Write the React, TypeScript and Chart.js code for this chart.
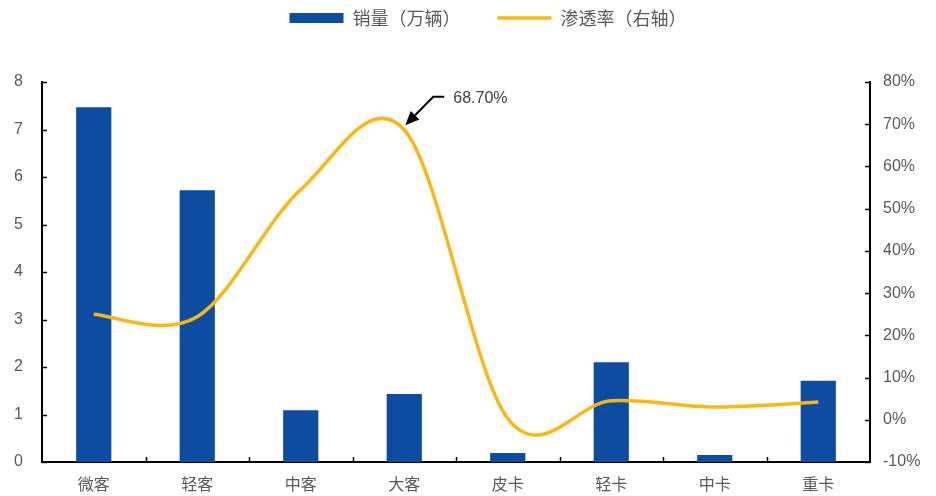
import React, { useEffect, useRef } from "react";
import { Chart, registerables } from "chart.js";

Chart.register(...registerables);

const categories = ["微客", "轻客", "中客", "大客", "皮卡", "轻卡", "中卡", "重卡"];
const salesValues = [7.47, 5.72, 1.09, 1.43, 0.19, 2.1, 0.15, 1.71];
const penetrationValues = [25, 24.4, 54.5, 68.7, 0.3, 4.5, 3, 4.2];
const leftTicks = [0, 1, 2, 3, 4, 5, 6, 7, 8];
const rightTicks = [-10, 0, 10, 20, 30, 40, 50, 60, 70, 80];
const salesLabel = "销量（万辆）";
const penetrationLabel = "渗透率（右轴）";
const annotationIndex = 3;
const annotationText = "68.70%";

const BAR_COLOR = "#0c4da2";
const LINE_COLOR = "#fbb714";
const TEXT_COLOR = "#595959";
const NUM_FONT = "'Liberation Sans', Arial, sans-serif";
const CJK_FONT = "'Noto Sans CJK SC', sans-serif";

// Excel-like smoothing (Catmull-Rom style control arms) applied to the library's points
const smoothPlugin = {
  id: "excelSmooth",
  beforeDatasetDraw(chart: any, args: any) {
    if (args.index !== 1) return;
    const meta = args.meta;
    const line = meta.dataset;
    if (line && line.updateControlPoints) line.updateControlPoints(chart.chartArea, "x");
    const pts = meta.data;
    const f = 1 / 6;
    for (let i = 0; i < pts.length; i++) {
      const p = pts[i];
      const p0 = pts[i - 1] || p;
      const p2 = pts[i + 1] || p;
      const dx = (p2.x - p0.x) * f;
      const dy = (p2.y - p0.y) * f;
      p.cp1x = p.x - dx;
      p.cp1y = p.y - dy;
      p.cp2x = p.x + dx;
      p.cp2y = p.y + dy;
    }
  },
};

const axisPlugin = {
  id: "customAxes",
  afterDatasetsDraw(chart: any) {
    const ctx = chart.ctx;
    const area = chart.chartArea;
    const y = chart.scales.y;
    const y1 = chart.scales.y1;
    const x = chart.scales.x;
    ctx.save();
    ctx.strokeStyle = "#000";
    ctx.lineWidth = 1.5;
    ctx.beginPath();
    leftTicks.forEach((v) => {
      const py = Math.round(y.getPixelForValue(v)) + 0.5;
      ctx.moveTo(area.left, py);
      ctx.lineTo(area.left + 5, py);
    });
    rightTicks.forEach((v) => {
      const py = Math.round(y1.getPixelForValue(v)) + 0.5;
      ctx.moveTo(area.right, py);
      ctx.lineTo(area.right - 5, py);
    });
    for (let i = 0; i < categories.length - 1; i++) {
      const px = (x.getPixelForValue(i) + x.getPixelForValue(i + 1)) / 2;
      ctx.moveTo(Math.round(px) + 0.5, area.bottom);
      ctx.lineTo(Math.round(px) + 0.5, area.bottom - 5);
    }
    ctx.stroke();

    // annotation
    const meta = chart.getDatasetMeta(1);
    const pt = meta.data[annotationIndex];
    if (pt) {
      const tipX = pt.x + 1;
      const tipY = pt.y - 4.5;
      const elbowX = pt.x + 29;
      const elbowY = pt.y - 33;
      const endX = pt.x + 40;
      ctx.strokeStyle = "#000";
      ctx.lineWidth = 2;
      const ang = Math.atan2(tipY - elbowY, tipX - elbowX);
      const headLen = 14;
      const baseX = tipX - headLen * Math.cos(ang);
      const baseY = tipY - headLen * Math.sin(ang);
      ctx.beginPath();
      ctx.moveTo(endX, elbowY);
      ctx.lineTo(elbowX, elbowY);
      ctx.lineTo(baseX, baseY);
      ctx.stroke();
      ctx.fillStyle = "#000";
      ctx.beginPath();
      ctx.moveTo(tipX, tipY);
      ctx.lineTo(baseX + 6 * Math.sin(ang), baseY - 6 * Math.cos(ang));
      ctx.lineTo(baseX - 6 * Math.sin(ang), baseY + 6 * Math.cos(ang));
      ctx.closePath();
      ctx.fill();
      ctx.fillStyle = "#404040";
      ctx.font = `16px ${NUM_FONT}`;
      ctx.textAlign = "left";
      ctx.textBaseline = "middle";
      ctx.fillText(annotationText, pt.x + 49, pt.y - 31.5);
    }
    ctx.restore();
  },
};

const LEGEND_PADDING = 37;
const legendSizePlugin = {
  id: "legendSize",
  afterInit(chart: any) {
    const lg = chart.legend;
    if (lg) {
      const origFit = lg.fit.bind(lg);
      lg.fit = () => {
        origFit();
        lg.height = 82;
      };
      const origDraw = lg.draw.bind(lg);
      lg.draw = () => {
        const t = lg.top;
        const l = lg.left;
        const r = lg.right;
        lg.top = t - 28;
        lg.left = l + 20;
        lg.right = r + 20;
        origDraw();
        lg.top = t;
        lg.left = l;
        lg.right = r;
      };
    }
  },
};

export default function App() {
  const canvasRef = useRef<HTMLCanvasElement | null>(null);

  useEffect(() => {
    const canvas = canvasRef.current;
    if (!canvas) return;
    const chart = new Chart(canvas, {
      type: "bar",
      data: {
        labels: categories,
        datasets: [
          {
            type: "bar",
            label: salesLabel,
            data: salesValues,
            backgroundColor: BAR_COLOR,
            borderWidth: 0,
            barPercentage: 0.34,
            categoryPercentage: 1,
            yAxisID: "y",
            order: 2,
          } as any,
          {
            type: "line",
            label: penetrationLabel,
            data: penetrationValues,
            borderColor: LINE_COLOR,
            backgroundColor: LINE_COLOR,
            borderWidth: 3.5,
            pointRadius: 0,
            tension: 0.4,
            capBezierPoints: false,
            fill: false,
            yAxisID: "y1",
            order: 1,
          } as any,
        ],
      },
      options: {
        animation: false,
        responsive: false,
        maintainAspectRatio: false,
        layout: { padding: 0 },
        plugins: {
          tooltip: { enabled: false },
          legend: {
            position: "top",
            labels: {
              usePointStyle: true,
              pointStyleWidth: 54,
              boxHeight: 10,
              padding: LEGEND_PADDING,
              color: TEXT_COLOR,
              font: { family: CJK_FONT, size: 18 },
              sort: (a: any, b: any) => a.datasetIndex - b.datasetIndex,
              generateLabels(chart: any) {
                const items = Chart.defaults.plugins.legend.labels.generateLabels(chart);
                return items.map((it: any) => {
                  const isBar = it.datasetIndex === 0;
                  return {
                    ...it,
                    pointStyle: isBar ? "rect" : "line",
                    lineWidth: isBar ? 0 : 3.5,
                    strokeStyle: isBar ? BAR_COLOR : LINE_COLOR,
                    fillStyle: isBar ? BAR_COLOR : LINE_COLOR,
                  };
                });
              },
            },
          },
        },
        scales: {
          x: {
            offset: true,
            grid: { display: false, drawTicks: false },
            border: { display: true, color: "#000", width: 2 },
            ticks: {
              color: TEXT_COLOR,
              font: { family: CJK_FONT, size: 16 },
              padding: 12,
              maxRotation: 0,
            },
            afterFit(scale: any) {
              scale.height = 34;
            },
          },
          y: {
            position: "left",
            min: 0,
            max: 8,
            grid: { display: false, drawTicks: false },
            border: { display: true, color: "#000", width: 2 },
            afterBuildTicks(scale: any) {
              scale.ticks = leftTicks.map((v) => ({ value: v }));
            },
            ticks: {
              color: TEXT_COLOR,
              font: { family: NUM_FONT, size: 16 },
              padding: 19,
            },
            afterFit(scale: any) {
              scale.width = 42;
            },
          },
          y1: {
            position: "right",
            min: -10,
            max: 80,
            grid: { display: false, drawTicks: false },
            border: { display: true, color: "#000", width: 2 },
            afterBuildTicks(scale: any) {
              scale.ticks = rightTicks.map((v) => ({ value: v }));
            },
            ticks: {
              color: TEXT_COLOR,
              font: { family: NUM_FONT, size: 16 },
              padding: 13,
              callback: (v: any) => `${v}%`,
            },
            afterFit(scale: any) {
              scale.width = 66;
            },
          },
        },
      } as any,
      plugins: [smoothPlugin, axisPlugin, legendSizePlugin],
    });
    return () => chart.destroy();
  }, []);

  return (
    <div style={{ position: "fixed", left: 0, top: 0, width: 936, height: 496, background: "#fff" }}>
      <canvas ref={canvasRef} width={936} height={496} style={{ width: 936, height: 496 }} />
    </div>
  );
}
